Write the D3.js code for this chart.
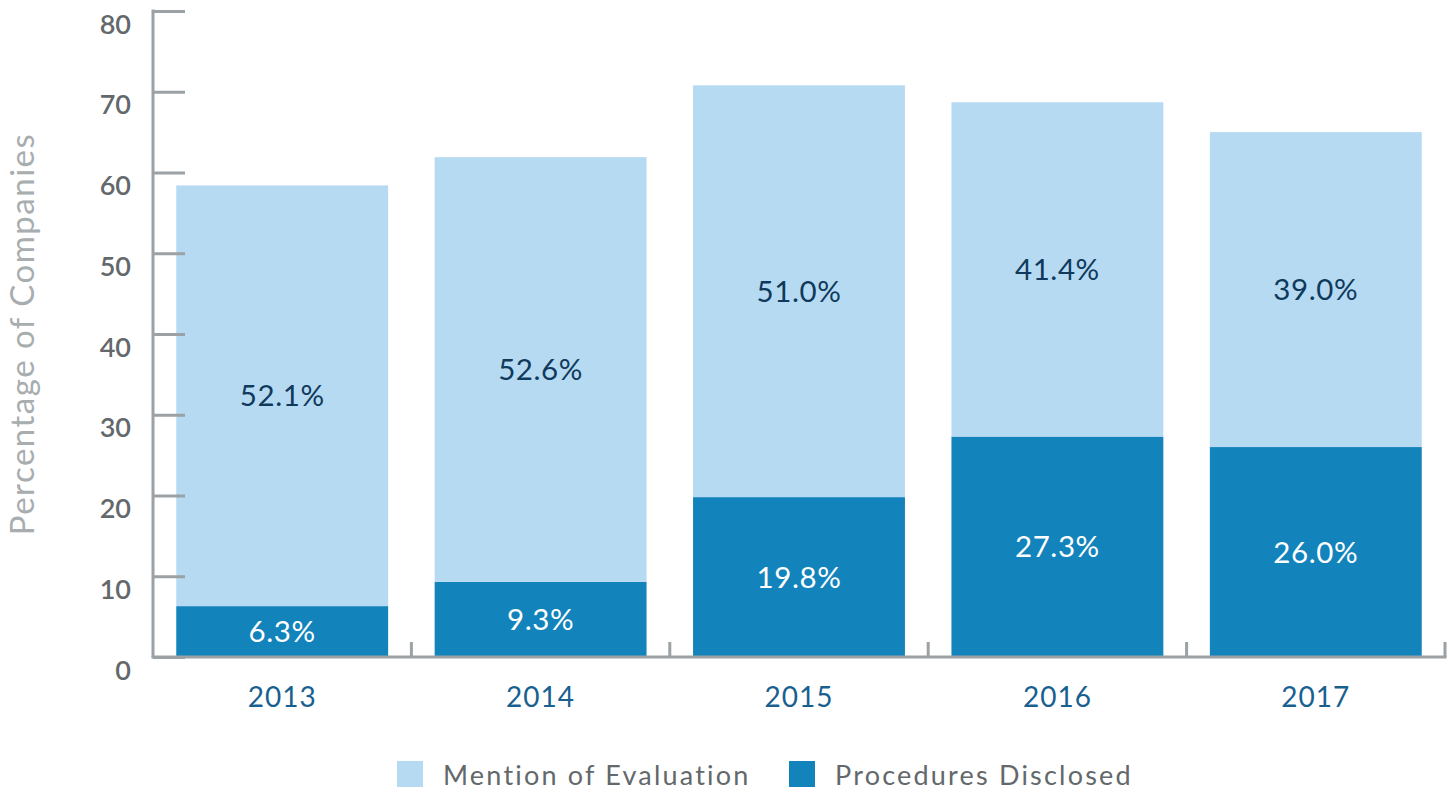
<!DOCTYPE html>
<html>
<head>
<meta charset="utf-8">
<script src="https://cdn.jsdelivr.net/npm/d3@7"></script>
<style>
  html, body { margin: 0; padding: 0; background: #ffffff; }
  svg { display: block; font-family: Lato, "Open Sans", sans-serif; }
</style>
</head>
<body>
<svg id="chart" width="1453" height="791"></svg>
<script>
// Share of companies by year: evaluation mentioned vs. procedures disclosed
const years = ["2013", "2014", "2015", "2016", "2017"];
const proceduresDisclosed = [6.3, 9.3, 19.8, 27.3, 26.0];
const mentionOfEvaluation = [52.1, 52.6, 51.0, 41.4, 39.0];
const yTicks = [0, 10, 20, 30, 40, 50, 60, 70, 80];
const seriesNames = ["Mention of Evaluation", "Procedures Disclosed"];

const colors = {
  mention: "#b7daf3",
  procedures: "#1283bb",
  axis: "#9ba1a4",
  tickText: "#63686b",
  yearText: "#18608f",
  darkLabel: "#0f3a5c",
  title: "#a8adb0",
  legendText: "#63686b"
};

const svg = d3.select("#chart");
const plotLeft = 153, plotRight = 1445, plotTop = 11, plotBottom = 657;

const x = d3.scaleBand().domain(years).range([plotLeft, plotRight])
  .paddingInner(0.18).paddingOuter(0.09);
const y = d3.scaleLinear().domain([0, 80]).range([plotBottom, plotTop]);

const rows = years.map((yr, i) => ({
  year: yr,
  procedures: proceduresDisclosed[i],
  mention: mentionOfEvaluation[i]
}));
const stack = d3.stack().keys(["procedures", "mention"])(rows);

// Bars
const layer = svg.append("g").selectAll("g").data(stack).join("g")
  .attr("fill", d => colors[d.key]);
layer.selectAll("rect").data(d => d).join("rect")
  .attr("x", d => x(d.data.year))
  .attr("width", x.bandwidth())
  .attr("y", d => y(d[1]))
  .attr("height", d => y(d[0]) - y(d[1]));

// Value labels centred in each segment
stack.forEach(s => {
  svg.append("g").selectAll("text").data(s).join("text")
    .attr("x", d => x(d.data.year) + x.bandwidth() / 2)
    .attr("y", d => (y(d[0]) + y(d[1])) / 2)
    .attr("dy", "0.36em")
    .attr("text-anchor", "middle")
    .attr("font-size", 29.5)
    .attr("letter-spacing", 0.6)
    .attr("fill", s.key === "procedures" ? "#ffffff" : colors.darkLabel)
    .text(d => d.data[s.key].toFixed(1) + "%");
});

// Y axis: ticks point inward, labels sit just below each tick
const yAxis = d3.axisLeft(y).tickValues(yTicks).tickSize(-32).tickPadding(22)
  .tickFormat(d3.format("d"));
const gy = svg.append("g").attr("transform", `translate(${plotLeft},0)`).call(yAxis);
gy.select(".domain").attr("stroke", colors.axis).attr("stroke-width", 3)
  .attr("d", `M0,${plotTop - 1.5}V${plotBottom}`);
gy.selectAll(".tick line").attr("stroke", colors.axis).attr("stroke-width", 3);
gy.selectAll(".tick text")
  .attr("fill", colors.tickText)
  .attr("font-size", 27)
  .attr("font-weight", 600)
  .attr("font-family", "Lato, sans-serif")
  .attr("dy", "0.82em");

// X axis baseline with short upward ticks at band boundaries
const step = x.step();
const boundaries = years.map(yr => x(yr) + x.bandwidth() + step * x.paddingInner() / 2);
const gx = svg.append("g");
gx.append("line")
  .attr("x1", plotLeft - 1.5).attr("x2", plotRight + 1.5)
  .attr("y1", plotBottom).attr("y2", plotBottom)
  .attr("stroke", colors.axis).attr("stroke-width", 3);
gx.selectAll("line.tick").data(boundaries).join("line")
  .attr("class", "tick")
  .attr("x1", d => d).attr("x2", d => d)
  .attr("y1", plotBottom).attr("y2", plotBottom - 15)
  .attr("stroke", colors.axis).attr("stroke-width", 3);
gx.selectAll("text").data(years).join("text")
  .attr("x", d => x(d) + x.bandwidth() / 2)
  .attr("y", 697)
  .attr("dy", "0.36em")
  .attr("text-anchor", "middle")
  .attr("font-size", 28)
  .attr("letter-spacing", 1)
  .attr("fill", colors.yearText)
  .text(d => d);

// Y axis title
svg.append("text")
  .attr("transform", "translate(22,334) rotate(-90)")
  .attr("dy", "0.36em")
  .attr("text-anchor", "middle")
  .attr("font-size", 33)
  .attr("letter-spacing", 1.5)
  .attr("fill", colors.title)
  .text("Percentage of Companies");

// Legend
const legendItems = [
  { name: seriesNames[0], color: colors.mention, x: 397 },
  { name: seriesNames[1], color: colors.procedures, x: 789 }
];
const lg = svg.append("g").selectAll("g").data(legendItems).join("g")
  .attr("transform", d => `translate(${d.x},761)`);
lg.append("rect").attr("width", 26).attr("height", 26).attr("fill", d => d.color);
lg.append("text")
  .attr("x", 46).attr("y", 24)
  .attr("font-size", 27)
  .attr("letter-spacing", 2.2)
  .attr("fill", colors.legendText)
  .text(d => d.name);
</script>
</body>
</html>
